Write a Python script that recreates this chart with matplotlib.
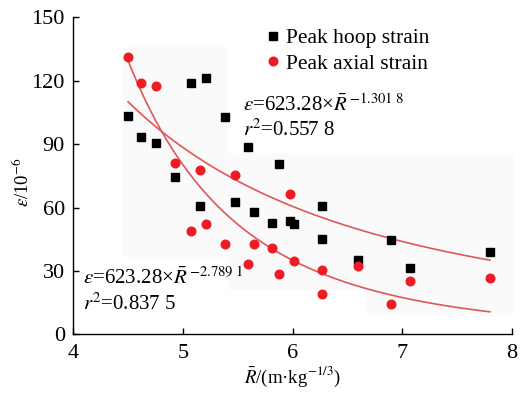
import numpy as np
import matplotlib
matplotlib.use('Agg')
import matplotlib.pyplot as plt
from matplotlib.patches import Rectangle

# peak hoop strain (black squares)
hoop_r = [4.50, 4.615, 4.755, 4.928, 5.071, 5.214, 5.153, 5.381, 5.475, 5.597, 5.646,
          5.816, 5.880, 5.980, 6.014, 6.269, 6.269, 6.600, 6.896, 7.069, 7.80]
hoop_eps = [103.4, 93.5, 90.4, 74.4, 118.9, 121.4, 60.9, 103.0, 62.6, 88.6, 57.9,
            52.8, 80.6, 53.8, 52.0, 60.7, 45.1, 35.2, 44.5, 31.5, 38.9]

# peak axial strain (red circles)
axial_r = [4.50, 4.615, 4.755, 4.928, 5.153, 5.475, 5.980, 5.071, 5.214, 5.384, 5.646,
           5.816, 5.597, 5.880, 6.014, 6.269, 6.269, 6.600, 6.896, 7.069, 7.80]
axial_eps = [131.4, 118.8, 117.7, 81.2, 77.6, 75.4, 66.3, 49.0, 52.1, 42.6, 42.6,
             41.0, 33.3, 28.4, 34.7, 30.3, 19.1, 32.5, 14.2, 25.1, 26.5]

XTICKS = [4, 5, 6, 7, 8]
YTICKS = [0, 30, 60, 90, 120, 150]


def power_fit(x, y):
    # least squares fit of y = a * x^b (grid over b, a solved directly)
    x = np.asarray(x)
    y = np.asarray(y)
    best = None
    for b in np.linspace(-6, 0, 6001):
        xb = x ** b
        a = np.sum(y * xb) / np.sum(xb * xb)
        err = np.sum((y - a * xb) ** 2)
        if best is None or err < best[2]:
            best = (a, b, err)
    return best[0], best[1]


plt.rcParams['font.family'] = ['Liberation Serif', 'DejaVu Serif']
plt.rcParams['mathtext.fontset'] = 'stix'

fig = plt.figure(figsize=(5.22, 3.94), dpi=100)
ax = fig.add_axes([0.1404, 0.1515, 0.840, 0.8046])

# faint grey patches behind the points (scan artefacts in the original)
for (x0, y0, w, h) in [(0.113, 0.244, 0.240, 0.663),
                       (0.353, 0.14, 0.65, 0.432),
                       (0.665, 0.067, 0.338, 0.073)]:
    ax.add_patch(Rectangle((x0, y0), w, h, transform=ax.transAxes,
                           facecolor='#fafafa', edgecolor='none', zorder=0,
                           clip_on=False))

# fitted curves
for xs, ys in [(hoop_r, hoop_eps), (axial_r, axial_eps)]:
    a, b = power_fit(xs, ys)
    xx = np.linspace(min(xs), max(xs), 200)
    ax.plot(xx, a * xx ** b, color='#e0575a', linewidth=1.2, zorder=2)

ax.plot(hoop_r, hoop_eps, linestyle='none', marker='s', markersize=5.6,
        color='black', label='Peak hoop strain', zorder=3)
ax.plot(axial_r, axial_eps, linestyle='none', marker='o', markersize=6.2,
        color='#ec1c24', label='Peak axial strain', zorder=3)

ax.legend(loc='upper center', bbox_to_anchor=(0.627, 1.0), frameon=False,
          fontsize=15.5, handlelength=0.5, handletextpad=0.35, labelspacing=0.25,
          borderaxespad=0.1)

ax.text(5.55, 108.5, r'$\varepsilon$=623.28×$\bar{R}^{\;{-}1.301\ 8}$', fontsize=15,
        va='center')
ax.text(5.55, 96.5, r'$r^2$=0.557 8', fontsize=15, va='center')
ax.text(4.09, 26.5, r'$\varepsilon$=623.28×$\bar{R}^{\;{-}2.789\ 1}$', fontsize=15,
        va='center')
ax.text(4.09, 14.5, r'$r^2$=0.837 5', fontsize=15, va='center')

ax.set_xlim(4, 8)
ax.set_ylim(0, 150)
ax.set_xticks(XTICKS)
ax.set_yticks(YTICKS)
ax.tick_params(direction='in', labelsize=16, length=4, width=1)
ax.tick_params(axis='x', pad=7)
ax.tick_params(axis='y', pad=6)
for side in ['top', 'right']:
    ax.spines[side].set_visible(False)
for side in ['left', 'bottom']:
    ax.spines[side].set_linewidth(1)

ax.set_xlabel(r'$\bar{R}$/(m·kg$^{-1/3}$)', fontsize=13.5, labelpad=1)
ax.set_ylabel(r'$\varepsilon$/10$^{-6}$', fontsize=13.5)
ax.yaxis.set_label_coords(-0.092, 0.48)

fig.savefig('out.png', dpi=100)
